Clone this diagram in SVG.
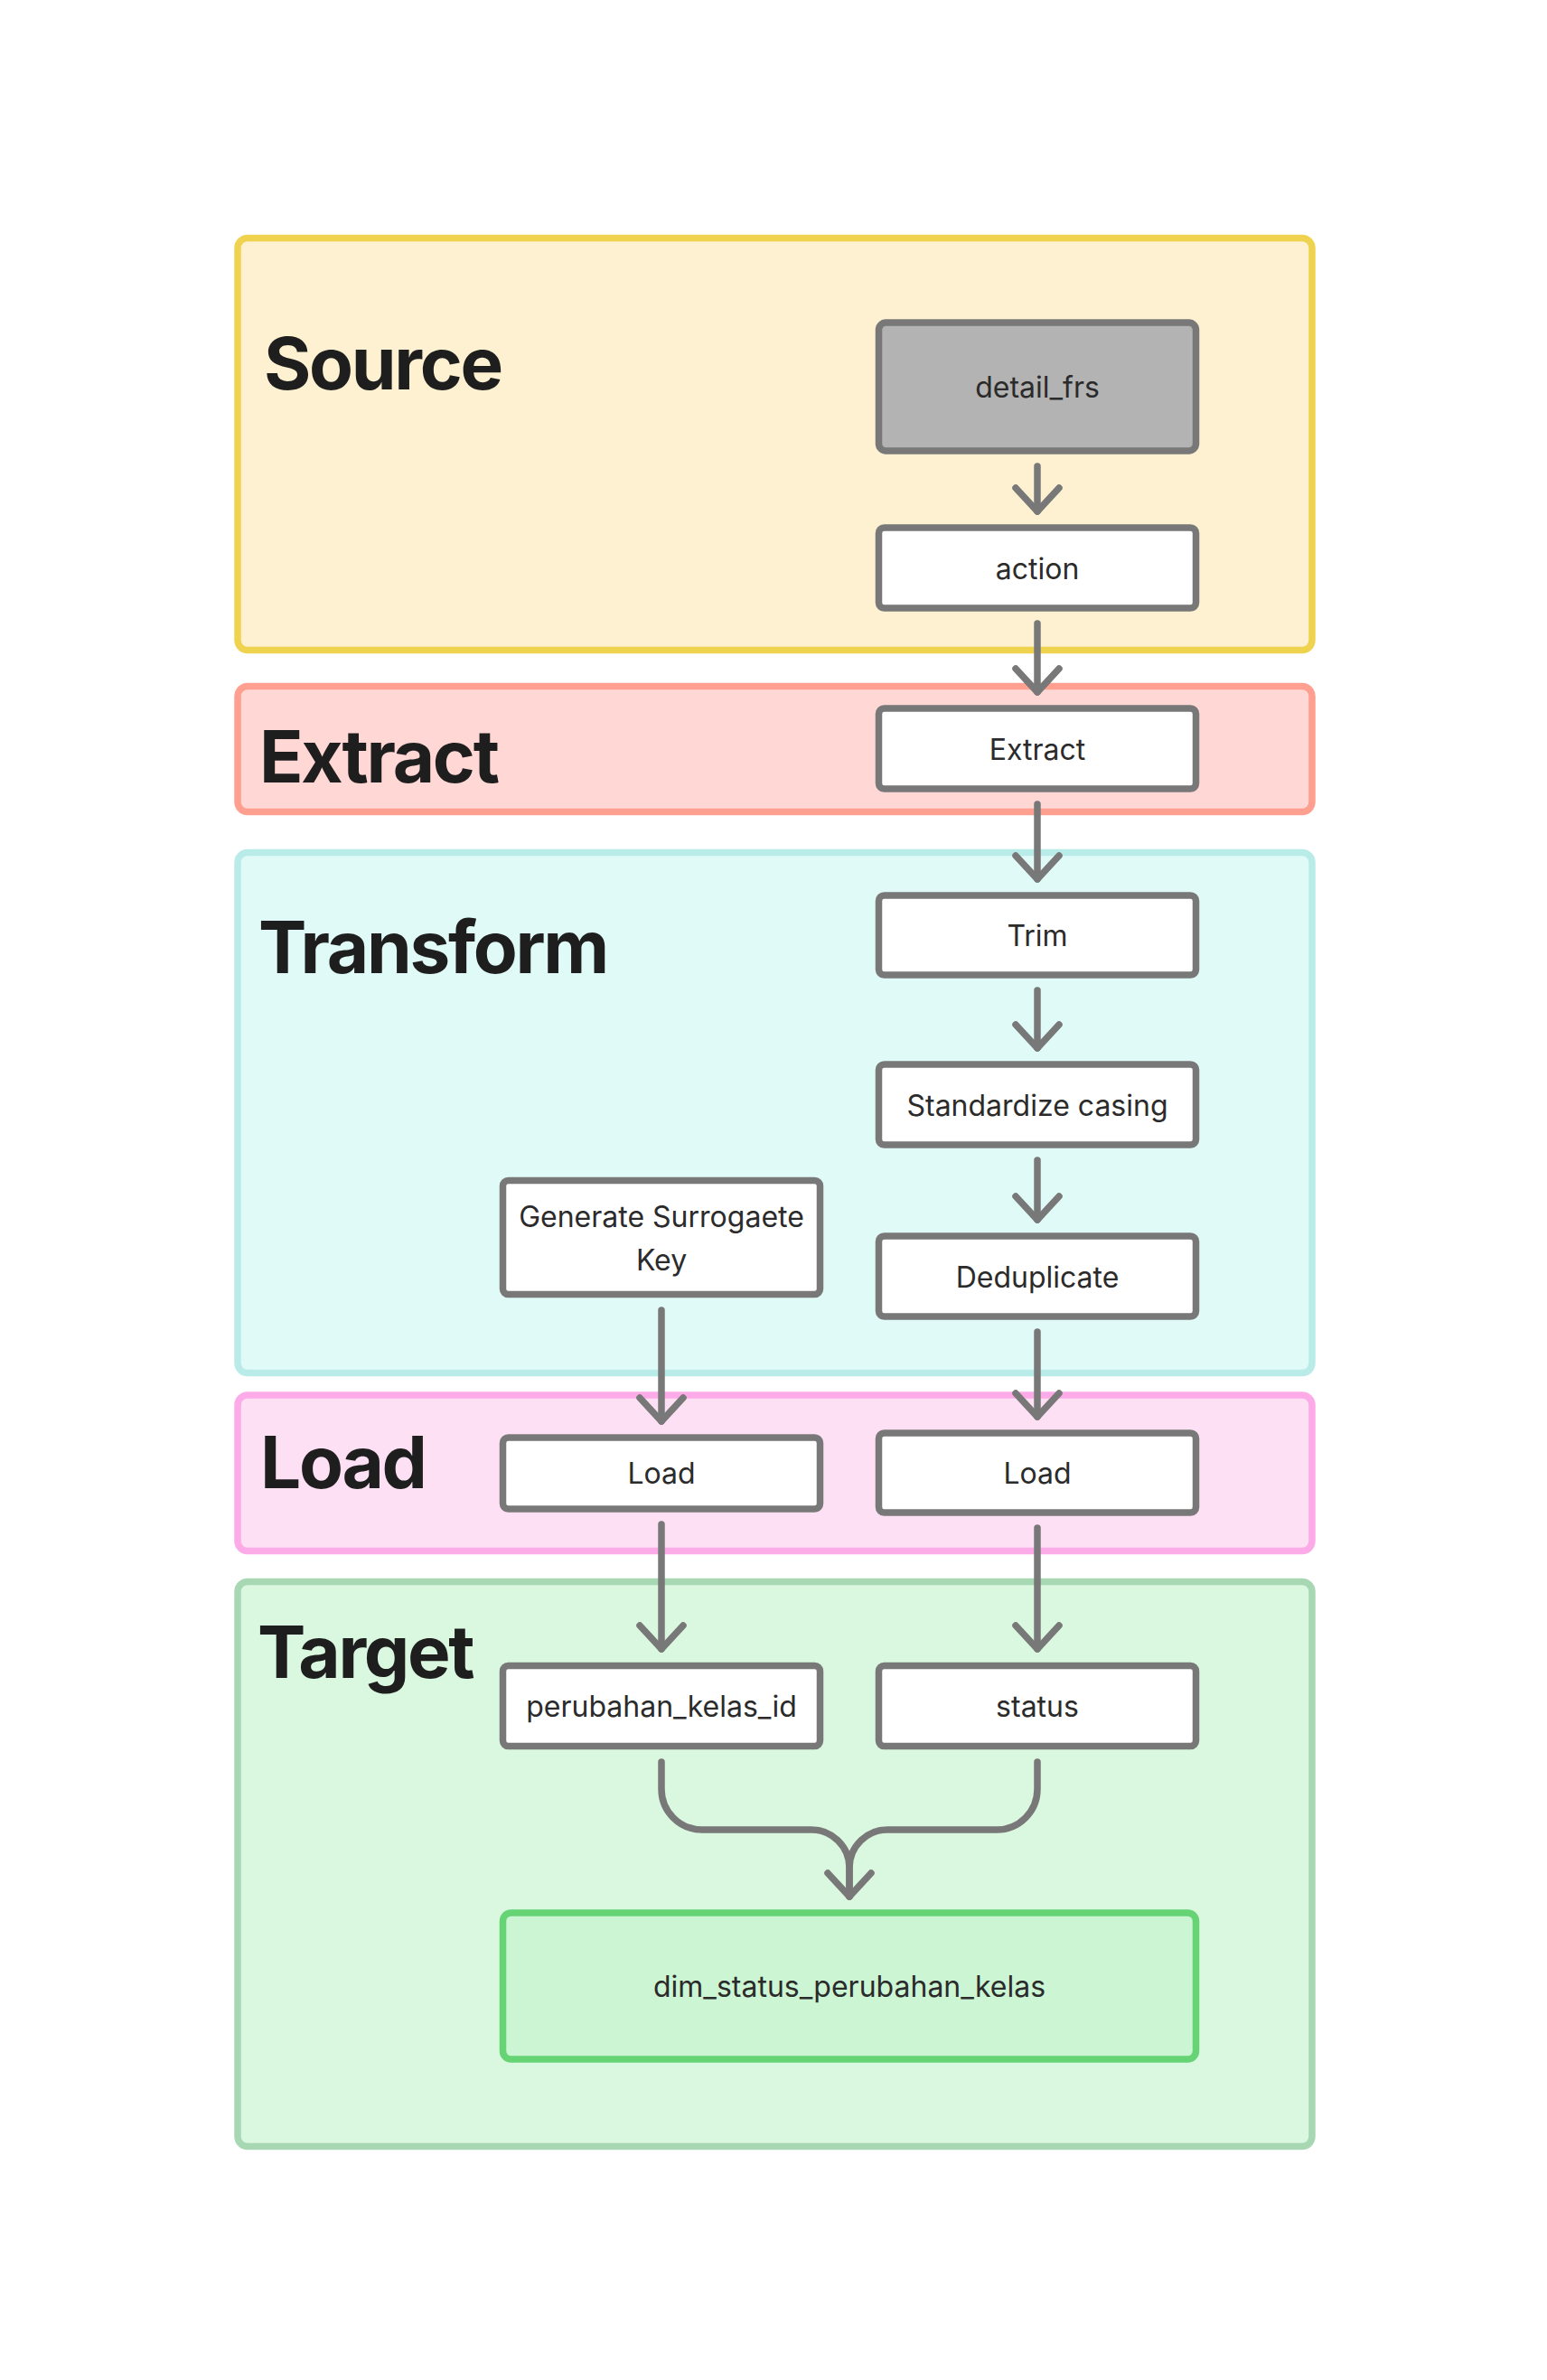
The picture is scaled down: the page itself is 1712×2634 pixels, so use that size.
<svg xmlns="http://www.w3.org/2000/svg" width="1712" height="2634" viewBox="0 0 1712 2634">
<style>
.grp{stroke-width:7.5;}
.title{font-family:Inter,"Liberation Sans",sans-serif;font-weight:700;font-size:80px;letter-spacing:-2.3px;fill:#1e1e1e;}
.node rect{fill:#ffffff;stroke:#787878;stroke-width:7.5;}
.lbl{font-family:Inter,"Liberation Sans",sans-serif;font-size:32px;fill:#2b2b2b;text-anchor:middle;}
.conn{fill:none;stroke:#787878;stroke-width:7.5;stroke-linecap:round;stroke-linejoin:round;}
</style>
<defs>
<marker id="arr" markerUnits="userSpaceOnUse" markerWidth="60" markerHeight="60" refX="0" refY="0" orient="auto" overflow="visible">
<path d="M -26 -24 L 0 0 L -26 24" fill="none" stroke="#787878" stroke-width="7.5" stroke-linecap="round" stroke-linejoin="round"/>
</marker>
</defs>
<rect width="1712" height="2634" fill="#ffffff"/>
<g id="group-source">
<rect class="grp" x="263" y="263.5" width="1189" height="456" rx="11" fill="#fef1d1" stroke="#efd34e"/>
<text class="title" x="292" y="431">Source</text>
</g>
<g id="group-extract">
<rect class="grp" x="263" y="759.5" width="1189" height="139" rx="11" fill="#ffd7d5" stroke="#ff9f8f"/>
<text class="title" x="287" y="866">Extract</text>
</g>
<g id="group-transform">
<rect class="grp" x="263" y="943.5" width="1189" height="576" rx="11" fill="#e0fbf7" stroke="#b9ebe9"/>
<text class="title" x="286" y="1077">Transform</text>
</g>
<g id="group-load">
<rect class="grp" x="263" y="1544" width="1189" height="172.5" rx="11" fill="#fee0f5" stroke="#fdaae8"/>
<text class="title" x="288" y="1647">Load</text>
</g>
<g id="group-target">
<rect class="grp" x="263" y="1750.5" width="1189" height="625" rx="11" fill="#daf7df" stroke="#a8d8b3"/>
<text class="title" x="285" y="1857">Target</text>
</g>
<g id="node-detail_frs" class="node">
<rect x="972.5" y="357" width="351" height="142" rx="8" style="fill:#b3b3b3"/>
<text class="lbl" x="1148" y="440">detail_frs</text>
</g>
<g id="node-action" class="node">
<rect x="972.5" y="584" width="351" height="89" rx="6"/>
<text class="lbl" x="1148" y="640.5">action</text>
</g>
<g id="node-extract" class="node">
<rect x="972.5" y="784" width="351" height="89" rx="6"/>
<text class="lbl" x="1148" y="840.5">Extract</text>
</g>
<g id="node-trim" class="node">
<rect x="972.5" y="991" width="351" height="88" rx="6"/>
<text class="lbl" x="1148" y="1047">Trim</text>
</g>
<g id="node-standardize" class="node">
<rect x="972.5" y="1178" width="351" height="89" rx="6"/>
<text class="lbl" x="1148" y="1235">Standardize casing</text>
</g>
<g id="node-deduplicate" class="node">
<rect x="972.5" y="1368" width="351" height="89" rx="6"/>
<text class="lbl" x="1148" y="1425">Deduplicate</text>
</g>
<g id="node-surrogate" class="node">
<rect x="556.5" y="1306.5" width="351" height="126" rx="6"/>
<text class="lbl" x="732" y="1358">Generate Surrogaete</text>
<text class="lbl" x="732" y="1406">Key</text>
</g>
<g id="node-load1" class="node">
<rect x="556.5" y="1591" width="351" height="79" rx="6"/>
<text class="lbl" x="732" y="1642">Load</text>
</g>
<g id="node-load2" class="node">
<rect x="972.5" y="1586" width="351" height="88" rx="6"/>
<text class="lbl" x="1148" y="1642">Load</text>
</g>
<g id="node-perubahan" class="node">
<rect x="556.5" y="1843.5" width="351" height="89" rx="6"/>
<text class="lbl" x="732" y="1900">perubahan_kelas_id</text>
</g>
<g id="node-status" class="node">
<rect x="972.5" y="1843.5" width="351" height="89" rx="6"/>
<text class="lbl" x="1148" y="1900">status</text>
</g>
<g id="node-dim" class="node">
<rect x="556.5" y="2117" width="767" height="162" rx="9" style="fill:#ccf5d3;stroke:#66d475"/>
<text class="lbl" x="940" y="2210">dim_status_perubahan_kelas</text>
</g>
<g id="connectors">
<path class="conn" d="M 1148 516 V 566" marker-end="url(#arr)"/>
<path class="conn" d="M 1148 690 V 766" marker-end="url(#arr)"/>
<path class="conn" d="M 1148 890 V 973" marker-end="url(#arr)"/>
<path class="conn" d="M 1148 1096 V 1160" marker-end="url(#arr)"/>
<path class="conn" d="M 1148 1284 V 1350" marker-end="url(#arr)"/>
<path class="conn" d="M 732 1450 V 1573" marker-end="url(#arr)"/>
<path class="conn" d="M 1148 1474 V 1568" marker-end="url(#arr)"/>
<path class="conn" d="M 732 1687 V 1825" marker-end="url(#arr)"/>
<path class="conn" d="M 1148 1691 V 1825" marker-end="url(#arr)"/>
<path class="conn" d="M 732 1950 V 1980 A 45 45 0 0 0 777 2025 H 898 A 42 42 0 0 1 940 2067 V 2099" marker-end="url(#arr)"/>
<path class="conn" d="M 1148 1950 V 1980 A 45 45 0 0 1 1103 2025 H 982 A 42 42 0 0 0 940 2067 V 2099"/>
</g>
</svg>
